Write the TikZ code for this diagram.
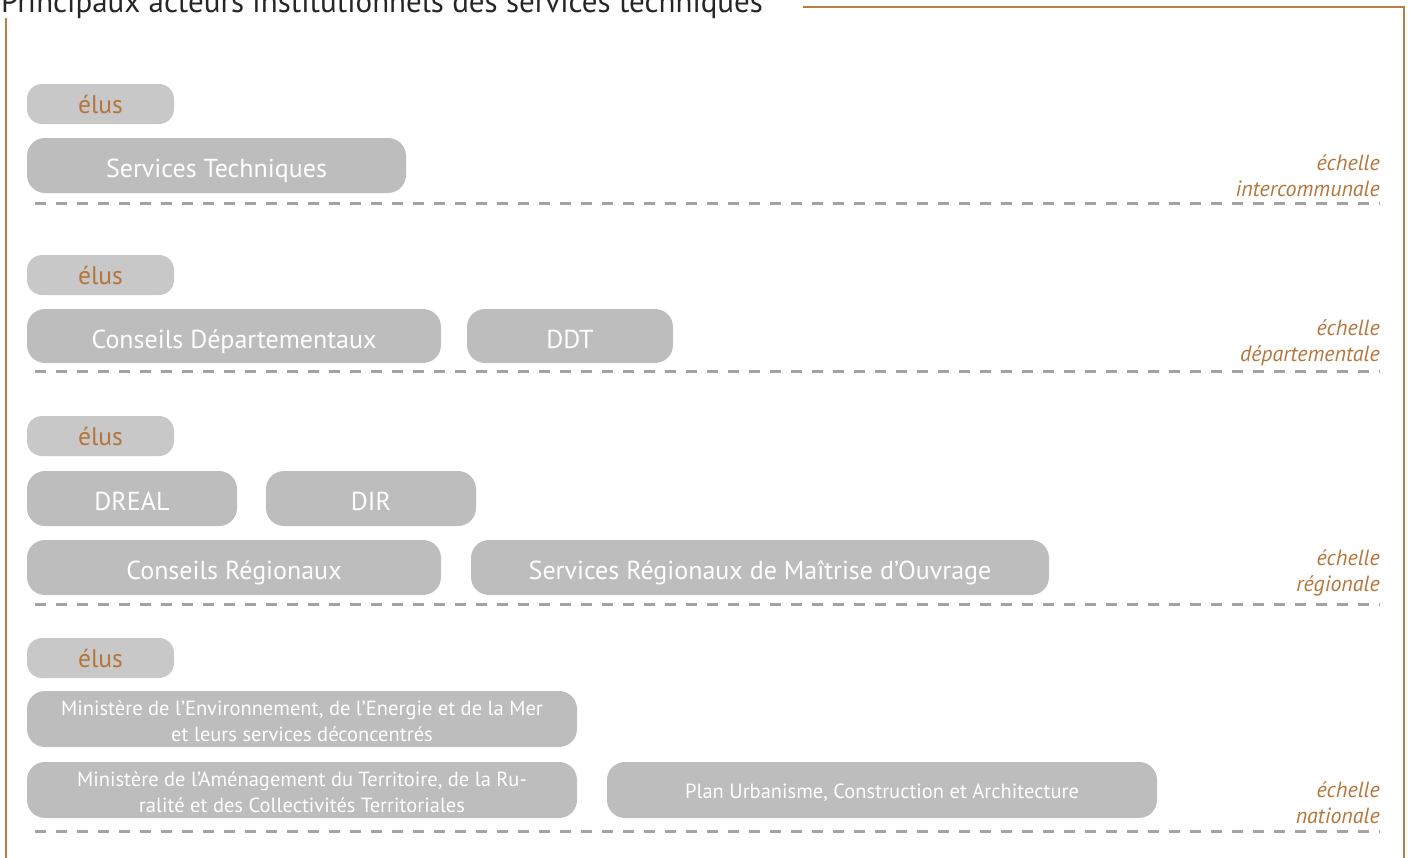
\documentclass[tikz,border=0pt]{standalone}
\usepackage{fontspec}
\setmainfont{PT Sans}
\definecolor{frameor}{HTML}{B97D46}
\definecolor{txtor}{HTML}{B5763B}
\definecolor{pillgray}{HTML}{BDBDBD}
\definecolor{elugray}{HTML}{C8C8C9}
\definecolor{dashgray}{HTML}{A3A3A3}
\tikzset{
  pill/.style={fill=pillgray, rounded corners=18pt, inner sep=0pt, text=white, font=\fontsize{26}{30}\selectfont, align=center, minimum height=55pt, text height=24pt, text depth=0pt},
  smallpill/.style={fill=pillgray, rounded corners=18pt, inner sep=0pt, text=white, align=center, font=\fontsize{20.5}{26}\selectfont},
  elupill/.style={fill=elugray, rounded corners=15pt, inner sep=0pt, text=txtor, font=\fontsize{25.5}{28}\selectfont, minimum width=147pt, minimum height=40pt, text height=18pt, text depth=0pt},
  scalelbl/.style={anchor=east, text=txtor, font=\fontsize{22}{26}\selectfont\itshape, align=right, inner sep=0pt},
  sep/.style={dashgray, line width=3pt, dash pattern=on 11pt off 10pt},
  frameline/.style={frameor, line width=2pt}
}
\begin{document}
\begin{tikzpicture}[x=1pt,y=-1pt]
\useasboundingbox (0,0) rectangle (1410,857);
% frame
\draw[frameline] (803,7) -- (1404,7) -- (1404,860);
\draw[frameline] (6,18) -- (6,860);
\node[anchor=base west, inner sep=0pt, text=black!85, font=\fontsize{31}{34}\selectfont] (title) at (1,12.5) {Principaux acteurs institutionnels des services techniques};
% intercommunale
\node[elupill] (e1) at (100.5,104) {élus};
\node[pill, minimum width=379pt] (st) at (216.5,165.5) {Services Techniques};
\node[scalelbl] (l1) at (1380,175.5) {échelle\\intercommunale};
\draw[sep] (35,203) -- (1380,203);
% departementale
\node[elupill] (e2) at (100.5,275) {élus};
\node[pill, minimum width=414pt, minimum height=54pt] (cd) at (234,336) {Conseils Départementaux};
\node[pill, minimum width=206pt, minimum height=54pt] (ddt) at (570,336) {DDT};
\node[scalelbl] (l2) at (1380,342.5) {échelle\\départementale};
\draw[sep] (35,371) -- (1380,371);
% regionale
\node[elupill] (e3) at (100.5,436) {élus};
\node[pill, minimum width=210pt] (dreal) at (132,498.5) {DREAL};
\node[pill, minimum width=210pt] (dir) at (371,498.5) {DIR};
\node[pill, minimum width=414pt] (cr) at (234,567.5) {Conseils Régionaux};
\node[pill, minimum width=578pt] (srmo) at (760,567.5) {Services Régionaux de Maîtrise d’Ouvrage};
\node[scalelbl] (l3) at (1380,572.5) {échelle\\régionale};
\draw[sep] (35,604) -- (1380,604);
% nationale
\node[elupill] (e4) at (100.5,658) {élus};
\node[smallpill, minimum width=550pt, minimum height=56pt] (menv) at (302,719) {};
\node[text=white, align=center, inner sep=0pt, font=\fontsize{20.5}{26}\selectfont] (menvt) at (302,721) {Ministère de l’Environnement, de l’Energie et de la Mer\\et leurs services déconcentrés};
\node[smallpill, minimum width=550pt, minimum height=56pt] (mat) at (302,790) {};
\node[text=white, align=center, inner sep=0pt, font=\fontsize{20.5}{26}\selectfont] (matt) at (302,792) {Ministère de l’Aménagement du Territoire, de la Ru-\\ralité et des Collectivités Territoriales};
\node[smallpill, minimum width=550pt, minimum height=56pt, text height=17pt, text depth=0pt] (puca) at (882,790) {Plan Urbanisme, Construction et Architecture};
\node[scalelbl] (l4) at (1380,802.5) {échelle\\nationale};
\draw[sep] (35,831) -- (1380,831);
\end{tikzpicture}
\end{document}
